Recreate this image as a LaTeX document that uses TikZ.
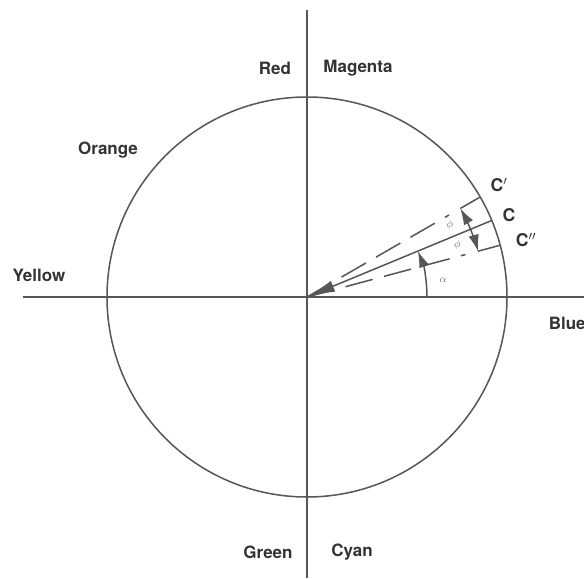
\documentclass[tikz,border=0pt]{standalone}
\usepackage{fontspec}
\setmainfont{TeX Gyre Heros}
\usepackage{tikz}
\usetikzlibrary{arrows.meta, positioning, calc}

\begin{document}
\begin{tikzpicture}[x=0.03cm, y=0.03cm, >=Latex, line width=1.3pt, color=black!66,
    hue/.style={font=\fontsize{14.5}{17}\selectfont\bfseries, text=black!80, inner sep=0pt},
    tag/.style={font=\fontsize{15}{17}\selectfont\bfseries, text=black!80, inner sep=0pt},
    ang/.style={font=\small, text=black!55, inner sep=0pt},
    ray/.style={dash pattern=on 24pt off 10pt},
    tip/.style={-{Latex[length=14pt,width=9pt]}}]
    \useasboundingbox (-307,-281) rectangle (277,297);

    % axes and colour circle
    \coordinate (o) at (0,0);
    \coordinate (top) at (0,287);
    \coordinate (bot) at (0,-281);
    \coordinate (west) at (-284,0);
    \coordinate (east) at (277,0);
    \draw (top) -- (bot);
    \draw (west) -- (east);
    \draw (o) circle (200);

    % hues
    \node[hue] (red) at (-32,229) {Red};
    \node[hue] (magenta) at (51,229) {Magenta};
    \node[hue] (orange) at (-199,147) {Orange};
    \node[hue] (yellow) at (-268,22) {Yellow};
    \node[hue, anchor=west] (blue) at (241,-26) {Blue};
    \node[hue] (green) at (-39,-255) {Green};
    \node[hue] (cyan) at (45,-255) {Cyan};

    % chrominance vectors
    \coordinate (c) at (22.5:200);
    \coordinate (c1) at (30:200);
    \coordinate (c2) at (15:200);
    \coordinate (c1d) at (30:164);
    \coordinate (c2d) at (15:164);
    \coordinate (c1i) at (30:177);
    \coordinate (c2i) at (15:177);
    \draw[{Latex[length=24pt,width=10pt]}-] (o) -- (c);
    \draw[ray] (o) -- (c1d);
    \draw[ray] (o) -- (c2d);
    \draw (c1i) -- (c1);
    \draw (c2i) -- (c2);

    % angles
    \draw[tip] (120,0) arc[start angle=0, end angle=22.5, radius=120];
    \draw[tip] (22.5:177) arc[start angle=22.5, end angle=30, radius=177];
    \draw[tip] (22.5:177) arc[start angle=22.5, end angle=15, radius=177];
    \node[ang] (alpha) at (7:137) {$\alpha$};
    \node[ang] (phi1) at (26.7:160) {$\phi$};
    \node[ang] (phi2) at (19:159) {$\phi$};

    \node[tag] (lc1) at (192,112) {C$'$};
    \node[tag] (lc) at (202,82) {C};
    \node[tag] (lc2) at (219,57) {C$''$};
\end{tikzpicture}
\end{document}
